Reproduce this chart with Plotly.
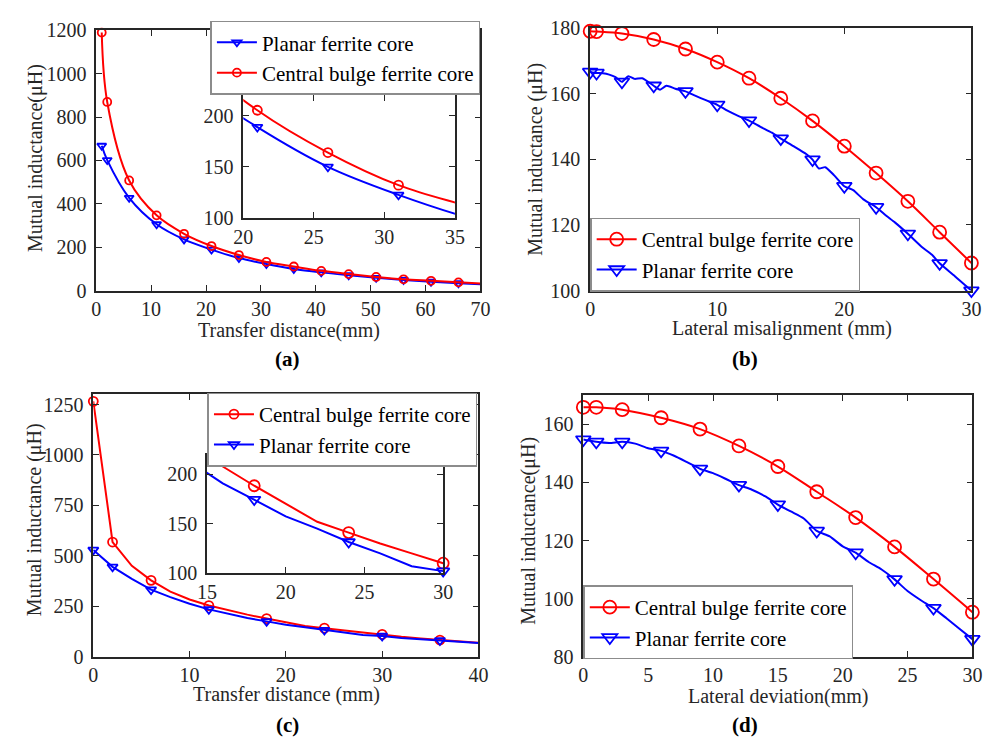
import plotly.graph_objects as go

# ---------------- data ----------------
# (a) mutual inductance vs transfer distance
a_x = [1, 2, 6, 11, 16, 21, 26, 31, 36, 41, 46, 51, 56, 61, 66, 70]
a_bulge = [1190, 870, 508, 347, 262, 205.5, 164, 132, 111, 91, 76, 63, 52, 45, 38, 33]
a_planar = [668, 602, 428, 306, 236, 189, 150, 122.5, 100, 84, 71, 59, 49, 41, 34, 29]
a_marked = [1, 2, 6, 11, 16, 21, 26, 31, 36, 41, 46, 51, 56, 61, 66]

# (b) mutual inductance vs lateral misalignment
b_x = [0, 0.5, 2.5, 5, 7.5, 10, 12.5, 15, 17.5, 20, 22.5, 25, 27.5, 30]
b_bulge = [179.0, 178.9, 178.3, 176.5, 173.6, 169.6, 164.7, 158.6, 151.7,
           144.0, 135.8, 127.2, 117.8, 108.4]
b_planar_x = [0, 0.5, 1.0, 1.5, 2.0, 2.5, 3.0, 3.5, 4.1, 5.0, 5.5, 6.0, 6.7, 7.5,
              8.3, 9.1, 10, 10.8, 11.6, 12.5, 13.4, 14.3, 15, 16, 17, 17.5, 18,
              18.5, 19.2, 20, 20.7, 21.5, 22.5, 23.3, 24, 25, 26.1, 26.9, 27.5,
              28.7, 30]
b_planar = [166.6, 166.3, 166.2, 165.8, 165.0, 163.6, 165.3, 164.5, 164.7, 162.4,
            161.2, 162.4, 161.5, 160.7, 159.3, 158.0, 156.6, 154.8, 153.3, 151.8,
            149.9, 148.1, 146.3, 144.0, 141.6, 139.9, 137.2, 137.6, 135.1, 131.8,
            130.6, 127.8, 125.4, 122.8, 120.7, 117.3, 113.3, 110.9, 108.3, 104.4,
            100.0]

# (c) mutual inductance vs transfer distance
c_x = [0, 2, 4, 6, 8, 10, 12, 14, 16, 18, 20, 22, 24, 26, 28, 30, 32, 34, 36, 38, 40]
c_bulge = [1266, 568, 450, 378, 322, 283, 253, 230, 208, 188.5, 170, 152, 141,
           130, 120, 110, 98, 90, 82, 75, 68]
c_planar = [529, 445, 385, 332, 295, 262, 234, 212, 191, 174.5, 157.5, 145, 131.5,
            120, 107, 102, 92, 86, 80, 73, 67]
c_marked = [0, 2, 6, 12, 18, 24, 30, 36]

# (d) mutual inductance vs lateral deviation
d_x = [0, 1, 3, 6, 9, 12, 15, 18, 21, 24, 27, 30]
d_bulge = [165.9, 165.9, 165.1, 162.3, 158.4, 152.6, 145.5, 136.8, 127.9, 117.8,
           106.7, 95.3]
d_planar_x = list(range(0, 31))
d_planar = [154.8, 154.0, 153.6, 154.0, 153.4, 151.8, 150.9, 149.2, 147.0, 144.7,
            143.2, 141.2, 139.1, 137.5, 135.3, 132.4, 130.0, 127.6, 123.3, 121.4,
            118.0, 115.8, 112.6, 110.0, 106.6, 102.6, 99.5, 96.7, 93.2, 89.6, 86.0]

BULGE = "Central bulge ferrite core"
PLANAR = "Planar ferrite core"

# ---------------- styling ----------------
W, H = 1001, 753
FONT = "Liberation Serif"
AXC = "#262626"
RED = "#FF0000"
BLUE = "#0000FF"


def px_x(p):
    return p / W


def px_y(p):
    return 1 - p / H


def axis(dom, rng, anchor, **kw):
    d = dict(domain=dom, range=rng, anchor=anchor, showline=True, linecolor=AXC,
             linewidth=1.7, mirror="ticks", ticks="inside", ticklen=6, tickwidth=1.3,
             tickcolor=AXC, showgrid=False, zeroline=False,
             tickfont=dict(family=FONT, size=20, color=AXC))
    d.update(kw)
    return d


def yaxis(dom, rng, anchor, **kw):
    return axis(dom, rng, anchor, ticklabelstandoff=4, **kw)


fig = go.Figure()


def pick(xs, ys, keep):
    pts = [(x, y) for x, y in zip(xs, ys) if keep(x)]
    return [p[0] for p in pts], [p[1] for p in pts]


def series(xs, ys, mx, color, symbol, msize, ax, name=None, legend=None,
           shape="spline", smoothing=1.0, xr=None):
    xa, ya = ax
    line = dict(color=color, width=2, shape=shape)
    if shape == "spline":
        line["smoothing"] = smoothing
    fig.add_trace(go.Scatter(x=xs, y=ys, mode="lines", xaxis=xa, yaxis=ya, line=line,
                             showlegend=False, hoverinfo="skip"))
    if xr is None:
        keep = lambda x: x in mx
    else:
        keep = lambda x: x in mx and xr[0] <= x <= xr[1]
    mxs, mys = pick(xs, ys, keep)
    marker = dict(symbol=symbol, size=msize, color=color, line=dict(color=color, width=1.8))
    fig.add_trace(go.Scatter(x=mxs, y=mys, mode="markers", xaxis=xa, yaxis=ya,
                             cliponaxis=False, marker=marker,
                             showlegend=False, hoverinfo="skip"))
    if name is not None:
        fig.add_trace(go.Scatter(x=[None], y=[None], mode="lines+markers", xaxis=xa,
                                 yaxis=ya, name=name, legend=legend,
                                 line=dict(color=color, width=2), marker=marker))


# (a) main
series(a_x, a_planar, a_marked, BLUE, "triangle-down-open", 8, ("x", "y"),
       PLANAR, "legend")
series(a_x, a_bulge, a_marked, RED, "circle-open", 8, ("x", "y"), BULGE, "legend")
# (a) inset
series(a_x, a_bulge, a_marked, RED, "circle-open", 9, ("x2", "y2"), xr=(20, 35))
series(a_x, a_planar, a_marked, BLUE, "triangle-down-open", 9, ("x2", "y2"), xr=(20, 35))

# (b)
series(b_x, b_bulge, b_x, RED, "circle-open", 13, ("x3", "y3"), BULGE, "legend2")
series(b_planar_x, b_planar, b_x, BLUE, "triangle-down-open", 13, ("x3", "y3"),
       PLANAR, "legend2", smoothing=0.6)

# (c) main
series(c_x, c_bulge, c_marked, RED, "circle-open", 9, ("x4", "y4"), BULGE, "legend3",
       shape="linear")
series(c_x, c_planar, c_marked, BLUE, "triangle-down-open", 9, ("x4", "y4"), PLANAR,
       "legend3", shape="linear")
# (c) inset
series(c_x, c_bulge, c_marked, RED, "circle-open", 11, ("x5", "y5"), shape="linear",
       xr=(15, 30))
series(c_x, c_planar, c_marked, BLUE, "triangle-down-open", 11, ("x5", "y5"),
       shape="linear", xr=(15, 30))

# (d)
series(d_x, d_bulge, d_x, RED, "circle-open", 13, ("x6", "y6"), BULGE, "legend4")
series(d_planar_x, d_planar, d_x, BLUE, "triangle-down-open", 13, ("x6", "y6"),
       PLANAR, "legend4", smoothing=0.6)

# ---------------- axes ----------------
fig.update_layout(
    xaxis=axis([px_x(88), px_x(480)], [0, 70], "y", dtick=10),
    yaxis=yaxis([px_y(288), px_y(20)], [0, 1200], "x", dtick=200),
    xaxis2=axis([px_x(238), px_x(454)], [20, 35], "y2", dtick=5),
    yaxis2=yaxis([px_y(213), px_y(87)], [100, 220], "x2", tickvals=[100, 150, 200]),
    xaxis3=axis([px_x(592), px_x(981)], [0, 30], "y3", dtick=10),
    yaxis3=yaxis([px_y(288), px_y(17.5)], [100, 180], "x3", dtick=20),
    xaxis4=axis([px_x(85), px_x(478)], [0, 40], "y4", dtick=10),
    yaxis4=yaxis([px_y(665), px_y(395)], [0, 1300], "x4",
                 tickvals=[0, 250, 500, 750, 1000, 1250]),
    xaxis5=axis([px_x(201), px_x(442)], [15, 30], "y5", dtick=5),
    yaxis5=yaxis([px_y(579), px_y(457)], [100, 220], "x5", tickvals=[100, 150, 200]),
    xaxis6=axis([px_x(585), px_x(982)], [0, 30], "y6", dtick=5),
    yaxis6=yaxis([px_y(665), px_y(396)], [80, 170], "x6",
                 tickvals=[80, 100, 120, 140, 160]),
)

legend_style = dict(bgcolor="white", bordercolor="#8c8c8c", borderwidth=1.5,
                    font=dict(family=FONT, size=21, color="black"),
                    tracegroupgap=0, itemwidth=40, xref="paper", yref="paper")
fig.update_layout(
    legend=dict(x=px_x(480), y=px_y(10), xanchor="right", yanchor="top", **legend_style),
    legend2=dict(x=px_x(592), y=px_y(289), xanchor="left", yanchor="bottom", **legend_style),
    legend3=dict(x=px_x(477), y=px_y(393), xanchor="right", yanchor="top", **legend_style),
    legend4=dict(x=px_x(585), y=px_y(668), xanchor="left", yanchor="bottom", **legend_style),
)

# ---------------- titles and panel labels ----------------
ann = []


def text(x, y, s, size=20, angle=0, color=AXC):
    ann.append(dict(x=px_x(x), y=px_y(y), xref="paper", yref="paper", text=s,
                    showarrow=False, textangle=angle, xanchor="center", yanchor="middle",
                    font=dict(family=FONT, size=size, color=color)))


text(26, 151, "Mutual inductance(μH)", angle=-90)
text(536, 153, "Mutual inductance (μH)", angle=-90)
text(25, 524, "Mutual inductance (μH)", angle=-90)
text(529, 535, "Mutual inductance(μH)", angle=-90)

text(285, 329, "Transfer distance(mm)")
text(788, 327, "Lateral misalignment (mm)")
text(282, 704, "Transfer distance (mm)")
text(784, 706, "Lateral deviation(mm)")

for x, y, s in [(283, 358, "(a)"), (750, 358, "(b)"), (283, 735, "(c)"), (750, 735, "(d)")]:
    text(x, y, "<b>" + s + "</b>", size=21, color="black")

fig.update_layout(annotations=ann, width=W, height=H,
                  font=dict(family=FONT, color=AXC),
                  margin=dict(l=0, r=0, t=0, b=0),
                  paper_bgcolor="white", plot_bgcolor="white")

fig.write_html("out.html")
